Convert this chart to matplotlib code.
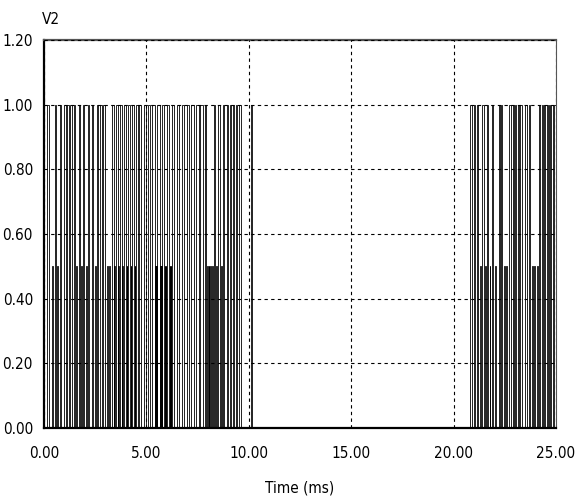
import matplotlib
matplotlib.use("Agg")
import matplotlib.pyplot as plt

# V2 gate pulses: start (ms), end (ms), level
pulse_on = [
    0.15, 0.40, 0.52, 0.64, 0.76, 0.98, 1.14, 1.28, 1.46,
    1.58, 1.70, 1.82, 1.90, 2.04, 2.16, 2.32, 2.48, 2.60,
    2.74, 2.90, 3.06, 3.18,
    3.30, 3.43, 3.50, 3.63, 3.70, 3.83, 3.90, 4.03, 4.10, 4.23,
    4.30, 4.43, 4.50, 4.66, 4.86, 5.06,
    5.28, 5.42, 5.47, 5.52, 5.66, 5.71, 5.76, 5.90, 5.95, 6.00,
    6.14, 6.19, 6.24, 6.48, 6.72, 6.96, 7.20, 7.44, 7.64,
    7.86, 7.97, 8.04, 8.11, 8.18,
    8.30, 8.42, 8.52, 8.64, 8.74,
    8.92, 9.07, 9.22, 9.37, 9.52, 10.12,
    20.82, 20.98, 21.14, 21.28, 21.40, 21.52, 21.64, 21.76, 21.88,
    22.00, 22.20, 22.30, 22.46, 22.58, 22.70,
    22.90, 23.00, 23.14, 23.26, 23.50, 23.66, 23.82, 23.94, 24.06,
    24.18, 24.30, 24.42, 24.54, 24.66, 24.78, 24.90,
]
pulse_off = [
    0.22, 0.45, 0.57, 0.69, 0.84, 1.06, 1.22, 1.36, 1.52,
    1.63, 1.76, 1.87, 1.97, 2.09, 2.22, 2.40, 2.53, 2.66,
    2.82, 2.98, 3.11, 3.23,
    3.40, 3.46, 3.60, 3.66, 3.80, 3.86, 4.00, 4.06, 4.20, 4.26,
    4.40, 4.46, 4.60, 4.76, 4.96, 5.16,
    5.40, 5.45, 5.50, 5.64, 5.69, 5.74, 5.88, 5.93, 5.98, 6.12,
    6.17, 6.22, 6.36, 6.60, 6.84, 7.08, 7.32, 7.56, 7.76,
    7.93, 8.01, 8.08, 8.15, 8.23,
    8.36, 8.46, 8.58, 8.68, 8.80,
    8.97, 9.12, 9.27, 9.42, 9.62, 10.14,
    20.90, 21.06, 21.20, 21.32, 21.46, 21.56, 21.70, 21.80, 21.94,
    22.05, 22.26, 22.36, 22.50, 22.62, 22.78,
    22.96, 23.06, 23.20, 23.32, 23.56, 23.72, 23.86, 23.98, 24.10,
    24.23, 24.35, 24.47, 24.59, 24.71, 24.83, 25.00,
]
pulse_level = [
    1, .5, 1, .5, 1, 1, 1, 1, 1,
    .5, 1, .5, 1, .5, 1, 1, .5, 1,
    1, 1, .5, .5,
    1, .5, 1, .5, 1, .5, 1, .5, 1, .5,
    1, .5, 1, 1, 1, 1,
    1, .5, .5, 1, .5, .5, 1, .5, .5, 1,
    .5, .5, 1, 1, 1, 1, 1, 1, 1,
    1, .5, .5, .5, .5,
    1, .5, 1, .5, 1,
    1, 1, 1, 1, 1, 1,
    1, 1, 1, .5, 1, .5, 1, .5, 1,
    .5, 1, 1, .5, .5, 1,
    1, 1, 1, 1, 1, 1, .5, .5, .5,
    1, 1, 1, 1, 1, 1, 1,
]

x_ticks = [0, 5, 10, 15, 20, 25]
y_ticks = [0, 0.2, 0.4, 0.6, 0.8, 1.0, 1.2]

# turn the pulse list into a stepped trace
t, v = [0.0], [0.0]
for on, off, lvl in zip(pulse_on, pulse_off, pulse_level):
    t += [on, on, off, off]
    v += [0, lvl, lvl, 0]
t.append(25.0)
v.append(0.0)

font = ['DejaVu Sans Condensed', 'DejaVu Sans']
fsize = 11

fig = plt.figure(figsize=(5.85, 5.0), dpi=100)
ax = fig.add_axes([44 / 585, 1 - 428 / 500, 512 / 585, 388 / 500])

ax.plot(t, v, color='black', lw=0.6, solid_joinstyle='miter')

ax.set_xlim(0, 25)
ax.set_ylim(0, 1.2)
ax.set_xticks(x_ticks)
ax.set_yticks(y_ticks)
ax.set_xticklabels(['%.2f' % x for x in x_ticks], family=font,
                   fontsize=fsize, stretch='condensed')
ax.set_yticklabels(['%.2f' % y for y in y_ticks], family=font,
                   fontsize=fsize, stretch='condensed')
ax.tick_params(length=0)
ax.tick_params(axis='x', pad=13)
ax.tick_params(axis='y', pad=8)

ax.grid(True, color='black', linestyle=(0, (3, 3)), linewidth=0.8)
ax.set_axisbelow(False)

for side in ['left', 'bottom']:
    ax.spines[side].set_linewidth(1.6)
    ax.spines[side].set_color('black')
ax.spines['top'].set_linewidth(1.6)
ax.spines['top'].set_color('#555555')
ax.spines['right'].set_linewidth(0.8)
ax.spines['right'].set_color('#555555')

ax.set_xlabel('Time (ms)', family=font, fontsize=fsize, stretch='condensed',
              labelpad=14)
fig.text(42 / 585, 1 - 20 / 500, 'V2', family=font, fontsize=fsize,
         stretch='condensed', va='center')

fig.savefig('out.png', dpi=100)
